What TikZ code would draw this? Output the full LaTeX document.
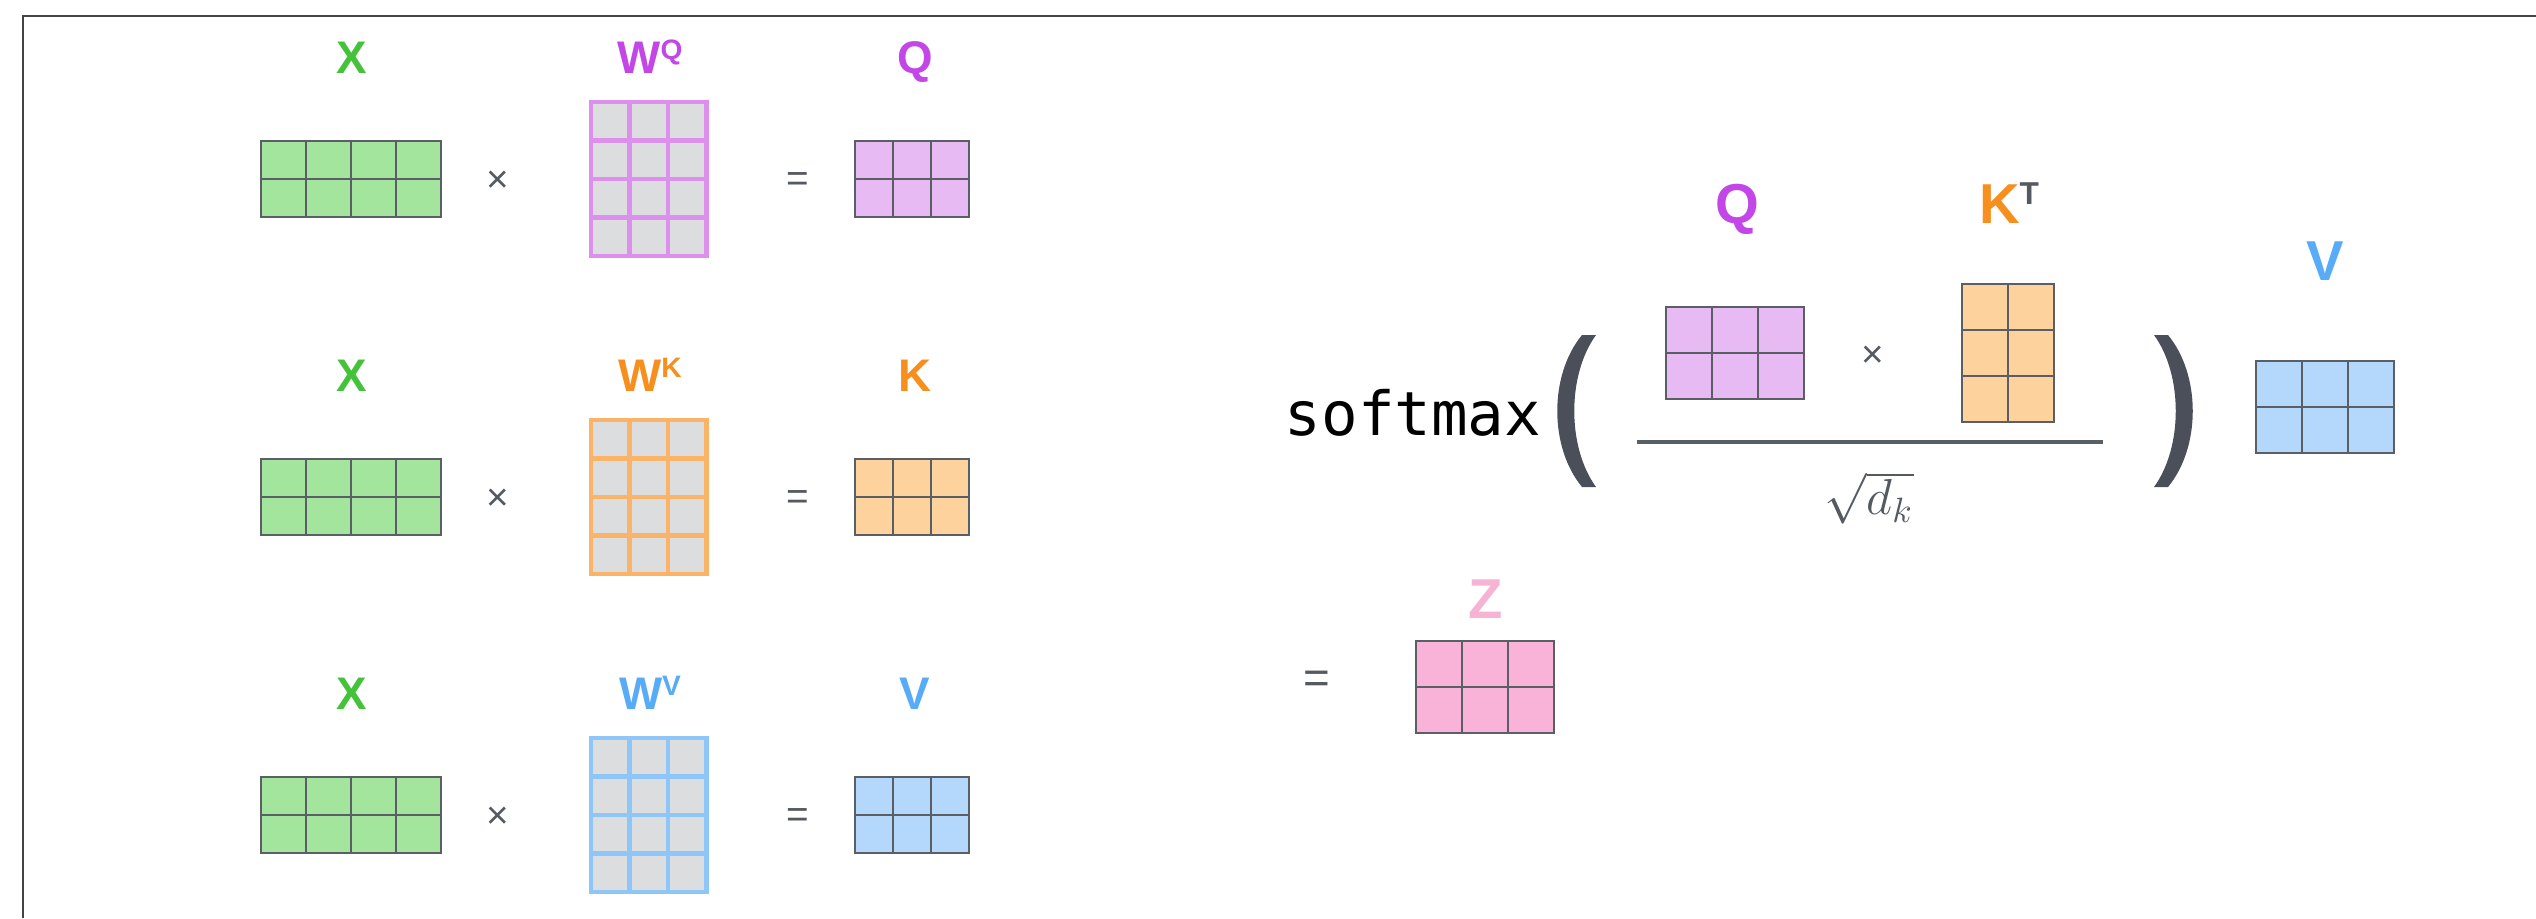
\documentclass[tikz,border=0pt]{standalone}
\usepackage{fontspec}
\setmainfont{Liberation Sans}
\newfontfamily\monofont{DejaVu Sans Mono}
\usepackage{tikz}
\definecolor{xgreen}{HTML}{44C23A}
\definecolor{xfill}{HTML}{A3E59D}
\definecolor{qpurple}{HTML}{C247E6}
\definecolor{qfill}{HTML}{E8BAF4}
\definecolor{qline}{HTML}{DC8FEC}
\definecolor{korange}{HTML}{F78F1E}
\definecolor{kfill}{HTML}{FED29C}
\definecolor{kline}{HTML}{FBB467}
\definecolor{vblue}{HTML}{58ABF7}
\definecolor{vfill}{HTML}{B4D8FC}
\definecolor{vline}{HTML}{8FC6FA}
\definecolor{zpink}{HTML}{F7B3D4}
\definecolor{zfill}{HTML}{FAB3D8}
\definecolor{wgray}{HTML}{DCDDDF}
\definecolor{gridline}{HTML}{5A5F66}
\definecolor{opgray}{HTML}{555A60}
\definecolor{parengray}{HTML}{4A4F59}
\definecolor{framegray}{HTML}{444444}
\tikzset{
  % etiketter
  lab/.style={font=\bfseries\fontsize{13}{13}\selectfont,inner sep=0pt,anchor=base},
  biglab/.style={font=\bfseries\fontsize{16}{16}\selectfont,inner sep=0pt,anchor=base},
  op/.style={text=opgray,font=\fontsize{11}{11}\selectfont,inner sep=0pt},
  % matriser
  cellm/.style={draw=gridline,line width=0.55pt,fill=#1},
  cellw/.style={draw=#1,line width=1.15pt,fill=wgray},
  paren/.style={fill=parengray},
  fracline/.style={draw=gridline,line width=1.15pt},
}
% stil, x, y, kolumner, rader, cellbredd, cellhöjd
\newcommand{\cellgrid}[7]{%
  \foreach \ci in {1,...,#4}{
    \foreach \cj in {1,...,#5}{
      \draw[#1] ({#2+(\ci-1)*#6},{#3+(\cj-1)*#7}) rectangle ++(#6,#7);
    }
  }%
}
\newcommand{\supl}[1]{\raisebox{3.8pt}{\fontsize{8}{8}\selectfont #1}}
\newcommand{\supr}[1]{\raisebox{5.4pt}{\fontsize{9}{9}\selectfont\color{opgray}#1}}

\begin{document}
\begin{tikzpicture}[x=0.01cm,y=-0.01cm]
\useasboundingbox (0,0) rectangle (2536,918);
\draw[framegray,line width=0.6pt] (2536,16) -- (23,16) -- (23,918);
  % Q = X W^Q
  \node[lab,text=xgreen] (xa) at (352,73) {X};
  \cellgrid{cellm=xfill}{261}{141}{4}{2}{45}{38}
  \node[op] (mula) at (498,182) {×};
  \node[lab,text=qpurple] (wq) at (650,73) {W\supl{Q}};
  \cellgrid{cellw=qline}{591}{102}{3}{4}{38.5}{38.5}
  \node[op] (eqa) at (798,182) {=};
  \node[lab,text=qpurple] (qa) at (915,73) {Q};
  \cellgrid{cellm=qfill}{855}{141}{3}{2}{38}{38}
  % K = X W^K
  \node[lab,text=xgreen] (xb) at (352,391) {X};
  \cellgrid{cellm=xfill}{261}{459}{4}{2}{45}{38}
  \node[op] (mulb) at (498,500) {×};
  \node[lab,text=korange] (wk) at (650,391) {W\supl{K}};
  \cellgrid{cellw=kline}{591}{420}{3}{4}{38.5}{38.5}
  \node[op] (eqb) at (798,500) {=};
  \node[lab,text=korange] (ka) at (915,391) {K};
  \cellgrid{cellm=kfill}{855}{459}{3}{2}{38}{38}
  % V = X W^V
  \node[lab,text=xgreen] (xc) at (352,709) {X};
  \cellgrid{cellm=xfill}{261}{777}{4}{2}{45}{38}
  \node[op] (mulc) at (498,818) {×};
  \node[lab,text=vblue] (wv) at (650,709) {W\supl{V}};
  \cellgrid{cellw=vline}{591}{738}{3}{4}{38.5}{38.5}
  \node[op] (eqc) at (798,818) {=};
  \node[lab,text=vblue] (va) at (915,709) {V};
  \cellgrid{cellm=vfill}{855}{777}{3}{2}{38}{38}
  % softmax(Q K^T / sqrt(d_k)) V
  \node[inner sep=0pt,anchor=base,font=\monofont\fontsize{17.3}{17.3}\selectfont] (smx) at (1413,435) {softmax};
  \fill[paren] (1596,335) -- (1582,335) .. controls (1549,375) and (1549,447) .. (1582,487)
    -- (1596,487) .. controls (1567,447) and (1567,375) .. cycle;
  \fill[paren] (2154,335) -- (2168,335) .. controls (2201,375) and (2201,447) .. (2168,487)
    -- (2154,487) .. controls (2183,447) and (2183,375) .. cycle;
  \node[biglab,text=qpurple] (qb) at (1737,223) {Q};
  \cellgrid{cellm=qfill}{1666}{307}{3}{2}{46}{46}
  \node[op] (muld) at (1873,357) {×};
  \node[biglab,text=korange] (kt) at (2009,223) {K\supr{T}};
  \cellgrid{cellm=kfill}{1962}{284}{2}{3}{46}{46}
  \draw[fracline] (1637,442) -- (2103,442);
  \node[text=opgray,inner sep=0pt,font=\fontsize{14.4}{16}\selectfont] (dk) at (1869,498) {$\sqrt{d_k}$};
  \node[biglab,text=vblue] (vb) at (2325,280) {V};
  \cellgrid{cellm=vfill}{2256}{361}{3}{2}{46}{46}
  % = Z
  \node[op,font=\fontsize{13}{13}\selectfont] (eqd) at (1317,682) {=};
  \node[biglab,text=zpink] (z) at (1486,618) {Z};
  \cellgrid{cellm=zfill}{1416}{641}{3}{2}{46}{46}
\end{tikzpicture}
\end{document}
